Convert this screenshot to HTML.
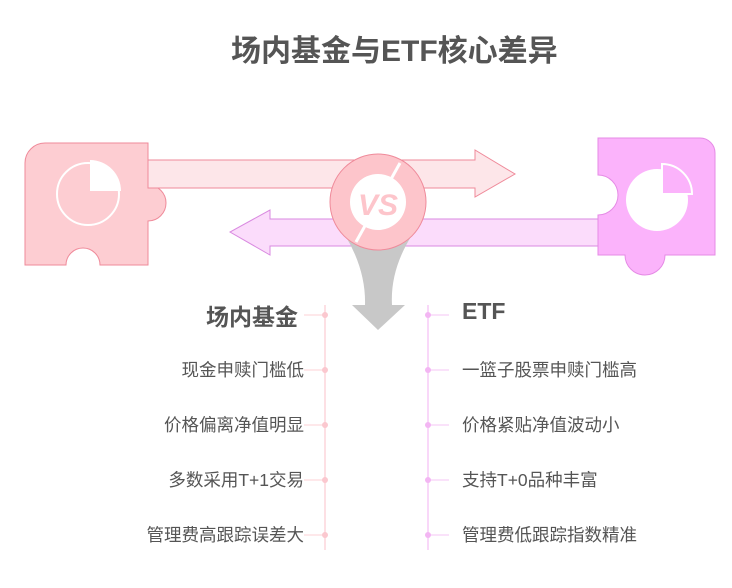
<!DOCTYPE html><html><head><meta charset="utf-8"><style>
body{margin:0;width:732px;height:588px;background:#fff;position:relative;overflow:hidden;font-family:"Liberation Sans","Noto Sans CJK SC",sans-serif;color:#555}
.t{position:absolute;white-space:nowrap}
.r{left:462px}
.i{font-size:17.5px;color:#555}
.h{font-size:23px;font-weight:bold;color:#555}
</style></head><body>
<div class="t" style="left:231px;top:26px;font-size:30px;font-weight:bold;color:#555">场内基金与ETF核心差异</div>
<svg width="732" height="588" style="position:absolute;left:0;top:0">
<path d="M45 143 H148 V185 A18 18 0 0 1 148 221 V265 H100 A17 17 0 0 0 66 265 H25 V163 A20 20 0 0 1 45 143 Z" fill="#fdcdd2" stroke="#ef8a9a" stroke-width="1"/>
<circle cx="88" cy="194" r="31" fill="none" stroke="#fff" stroke-width="2"/>
<path d="M90 160 A31 31 0 0 1 121 191 H90 Z" fill="#fff"/>
<path d="M148 160 H475 V150 L515 174 L475 197 V188 H148 Z" fill="#fde6e9" stroke="#ef8a9a" stroke-width="1"/>
<path d="M598 219 H270 V210 L230 232 L270 255 V246 H598 Z" fill="#fbdcfb" stroke="#d98ae0" stroke-width="1"/>
<path d="M598 138 H700 A15 15 0 0 1 715 153 V255 H665 A20 20 0 0 1 625 255 H598 V215 A20 20 0 0 0 598 175 Z" fill="#fbb3fb" stroke="#e58be5" stroke-width="1"/>
<circle cx="657" cy="200" r="31" fill="#fff"/>
<path d="M662 164 A30 30 0 0 1 692 194 H662 Z" fill="#fbb3fb" stroke="#fff" stroke-width="2"/>
<path d="M345 235 Q380 260 412 235 Q390 270 392 305 H405 L378 330 L352 305 H365 Q366 270 345 235 Z" fill="#c8c8c8"/>
<circle cx="378" cy="202" r="48" fill="#fdc5cb" stroke="#ef8a9a" stroke-width="1"/>
<circle cx="378" cy="202" r="28" fill="#fff"/>
<line x1="400" y1="163" x2="356" y2="242" stroke="#fff" stroke-width="3"/>
<text x="378" y="215" text-anchor="middle" font-family="Liberation Sans" font-weight="bold" font-style="italic" font-size="30" fill="#fdc5cb">VS</text>
<line x1="325" y1="305" x2="325" y2="550" stroke="#fde0e4" stroke-width="2"/>
<line x1="428" y1="305" x2="428" y2="550" stroke="#f9d8f9" stroke-width="2"/>
<g stroke="#fde0e4" stroke-width="1.5"><line x1="304" y1="315" x2="325" y2="315"/><line x1="304" y1="370" x2="325" y2="370"/><line x1="304" y1="425" x2="325" y2="425"/><line x1="304" y1="480" x2="325" y2="480"/><line x1="304" y1="535" x2="325" y2="535"/></g>
<g stroke="#f9d8f9" stroke-width="1.5"><line x1="428" y1="315" x2="449" y2="315"/><line x1="428" y1="370" x2="449" y2="370"/><line x1="428" y1="425" x2="449" y2="425"/><line x1="428" y1="480" x2="449" y2="480"/><line x1="428" y1="535" x2="449" y2="535"/></g>
<g fill="#fbc8cf"><circle cx="325" cy="315" r="3"/><circle cx="325" cy="370" r="3"/><circle cx="325" cy="425" r="3"/><circle cx="325" cy="480" r="3"/><circle cx="325" cy="535" r="3"/></g>
<g fill="#f3b6f3"><circle cx="428" cy="315" r="3"/><circle cx="428" cy="370" r="3"/><circle cx="428" cy="425" r="3"/><circle cx="428" cy="480" r="3"/><circle cx="428" cy="535" r="3"/></g>
</svg>
<div class="t h" style="right:434px;top:298px">场内基金</div>
<div class="t h" style="left:462px;top:298px">ETF</div>
<div class="t i" style="right:428px;top:357px">现金申赎门槛低</div>
<div class="t i" style="right:428px;top:412px">价格偏离净值明显</div>
<div class="t i" style="right:428px;top:467px">多数采用T+1交易</div>
<div class="t i" style="right:428px;top:522px">管理费高跟踪误差大</div>
<div class="t i r" style="top:357px">一篮子股票申赎门槛高</div>
<div class="t i r" style="top:412px">价格紧贴净值波动小</div>
<div class="t i r" style="top:467px">支持T+0品种丰富</div>
<div class="t i r" style="top:522px">管理费低跟踪指数精准</div>
</body></html>
